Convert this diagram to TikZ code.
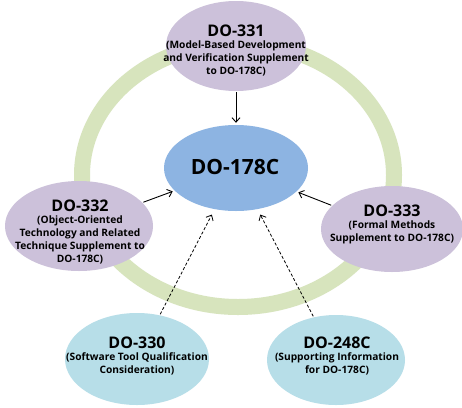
\documentclass[tikz,border=0pt]{standalone}
\usepackage{fontspec}
\setmainfont{Open Sans}
\usetikzlibrary{shapes.geometric,arrows.meta}
\definecolor{purp}{HTML}{CCC1DA}
\definecolor{midblue}{HTML}{8DB4E2}
\definecolor{ltblue}{HTML}{B7DEE8}
\definecolor{ringgreen}{HTML}{D7E4BD}
\begin{document}
\begin{tikzpicture}[x=1pt,y=-1pt,
  bub/.style={ellipse,inner sep=0pt,draw=none},
  txt/.style={align=center,inner sep=0pt,font=\bfseries\fontsize{10.2}{13}\selectfont},
  arr/.style={-{Straight Barb[length=4.5pt,width=8pt]},line width=0.9pt,black,shorten <=1pt,shorten >=2pt},
  darr/.style={arr,dash pattern=on 3pt off 2pt,line width=0.8pt,shorten >=6pt}]
\useasboundingbox (0,0) rectangle (462,407);
\fill[white] (0,0) rectangle (462,407);
\draw[ringgreen,line width=16pt] (238,175) ellipse [x radius=156pt,y radius=132pt];

\node[bub,fill=purp,minimum width=140pt,minimum height=90pt] (n331) at (236,46) {};
\node[bub,fill=midblue,minimum width=144pt,minimum height=86pt] (n178) at (236,168) {};
\node[bub,fill=purp,minimum width=148pt,minimum height=90pt] (n332) at (79,226) {};
\node[bub,fill=purp,minimum width=142pt,minimum height=86pt] (n333) at (392,229) {};
\node[bub,fill=ltblue,minimum width=144pt,minimum height=92pt] (n330) at (137,359) {};
\node[bub,fill=ltblue,minimum width=138pt,minimum height=90pt] (n248) at (336,360) {};

\node[txt] (t331) at (236,51) {{\fontsize{16}{18}\selectfont DO-331}\\[-1pt](Model-Based Development\\and Verification Supplement\\to DO-178C)};
\node[txt,font=\bfseries\fontsize{21}{24}\selectfont] (t178) at (235,167) {DO-178C};
\node[txt] (t332) at (80,232) {{\fontsize{16}{18}\selectfont DO-332}\\[-1pt](Object-Oriented\\Technology and Related\\Technique Supplement to\\DO-178C)};
\node[txt] (t333) at (392,224) {{\fontsize{16}{18}\selectfont DO-333}\\[-1pt](Formal Methods\\Supplement to DO-178C)};
\node[txt] (t330) at (137,356) {{\fontsize{16}{18}\selectfont DO-330}\\[-1pt](Software Tool Qualification\\Consideration)};
\node[txt] (t248) at (337,356) {{\fontsize{16}{18}\selectfont DO-248C}\\[-1pt](Supporting Information\\for DO-178C)};

\draw[arr] (n331) -- (n178);
\draw[arr] (n332) -- (n178);
\draw[arr] (n333) -- (n178);
\draw[darr] (n330) -- (n178);
\draw[darr] (n248) -- (n178);
\end{tikzpicture}
\end{document}
